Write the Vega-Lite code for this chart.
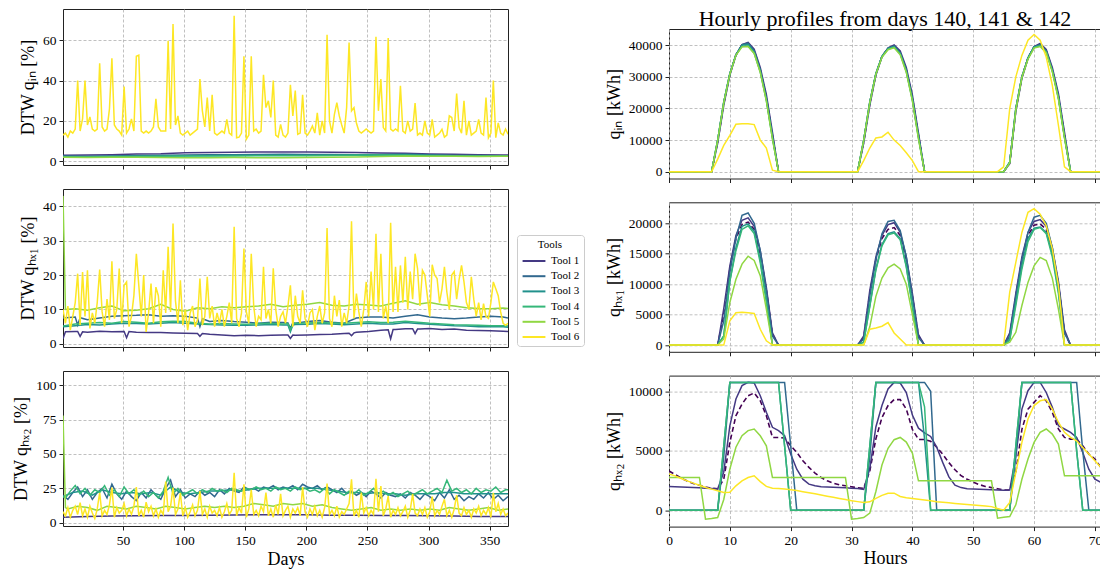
{
"$schema": "https://vega.github.io/schema/vega-lite/v6.json",
"padding": {"left": 12, "top": 8, "right": 0, "bottom": 0},
"config": {
  "font": "Liberation Serif",
  "view": {"stroke": "#222222", "strokeWidth": 1},
  "axis": {"labelFont": "Liberation Serif", "titleFont": "Liberation Serif", "labelFontSize": 13.5, "titleFontSize": 18, "titleFontWeight": "normal", "labelColor": "#000000", "titleColor": "#000000", "tickColor": "#222222", "tickSize": 4, "domain": false, "grid": true, "gridColor": "#b0b0b0", "gridDash": [3, 2], "gridWidth": 0.8, "labelPadding": 3, "titlePadding": 5, "labelFlush": false, "labelOverlap": false},
  "legend": {"orient": "none", "legendX": 454, "legendY": 226, "titleFontSize": 11, "labelFontSize": 11, "titleFontWeight": "normal", "titleFont": "Liberation Serif", "labelFont": "Liberation Serif", "titleAnchor": "middle", "strokeColor": "#cccccc", "fillColor": "#ffffff", "cornerRadius": 3, "padding": 4, "symbolSize": 232, "symbolStrokeWidth": 2, "labelOffset": 8, "rowPadding": 1.2, "titlePadding": 2, "symbolOffset": 4, "labelColor": "#000000", "titleColor": "#000000"}
},
"datasets": {
"L1": [
{"d":1,"T1":3.0,"T2":2.6,"T3":2.4,"T4":2.2,"T5":2.0,"T6":13},
{"d":3,"T6":14},{"d":5,"T6":12},{"d":7,"T6":15},{"d":9,"T6":14},{"d":11,"T6":16},{"d":13,"T6":40},{"d":15,"T6":15},{"d":17,"T6":21},{"d":19,"T6":40},
{"d":21,"T1":3.1,"T2":2.5,"T3":2.3,"T4":2.2,"T5":1.9,"T6":18},
{"d":23,"T6":22},{"d":25,"T6":16},{"d":27,"T6":15},{"d":29,"T6":16},{"d":31,"T6":48.6},{"d":33,"T6":17},{"d":35,"T6":15},{"d":37,"T6":16},{"d":39,"T6":26},
{"d":41,"T1":3.3,"T2":2.7,"T3":2.5,"T4":2.3,"T5":2.0,"T6":51},
{"d":43,"T6":18},{"d":45,"T6":16},{"d":47,"T6":15},{"d":49,"T6":13},{"d":51,"T6":37},{"d":53,"T6":14},{"d":55,"T6":16},{"d":57,"T6":21},{"d":59,"T6":15},
{"d":61,"T1":3.6,"T2":2.9,"T3":2.6,"T4":2.4,"T5":2.0,"T6":52},
{"d":63,"T6":52.6},{"d":65,"T6":15},{"d":67,"T6":14},{"d":69,"T6":15},{"d":71,"T6":14},{"d":73,"T6":15},{"d":75,"T6":17},{"d":77,"T6":31},{"d":79,"T6":17},
{"d":81,"T1":3.8,"T2":3.0,"T3":2.7,"T4":2.5,"T5":1.9,"T6":15},
{"d":83,"T6":15},{"d":85,"T6":15},{"d":87,"T6":59.7},{"d":89,"T6":16},{"d":91,"T6":68},{"d":93,"T6":18},{"d":95,"T6":22.5},{"d":97,"T6":14},{"d":99,"T6":13},
{"d":101,"T1":4.3,"T2":3.2,"T3":2.8,"T4":2.6,"T5":1.8,"T6":14},
{"d":103,"T6":15},{"d":105,"T6":13},{"d":107,"T6":14},{"d":109,"T6":15},{"d":111,"T6":16},{"d":113,"T6":40.7},{"d":115,"T6":25},{"d":117,"T6":17},{"d":119,"T6":31.6},
{"d":121,"T1":4.4,"T2":3.3,"T3":2.9,"T4":2.7,"T5":1.8,"T6":15},
{"d":123,"T6":33},{"d":125,"T6":14},{"d":127,"T6":13},{"d":129,"T6":14},{"d":131,"T6":15},{"d":133,"T6":14},{"d":135,"T6":20.8},{"d":137,"T6":14},{"d":139,"T6":13},
{"d":141,"T1":4.5,"T2":3.3,"T3":3.0,"T4":2.7,"T5":1.9,"T6":72},
{"d":143,"T6":11.7},{"d":145,"T6":12},{"d":147,"T6":14},{"d":149,"T6":52},{"d":151,"T6":11},{"d":153,"T6":13},{"d":155,"T6":52},{"d":157,"T6":15},{"d":159,"T6":16},
{"d":161,"T1":4.6,"T2":3.4,"T3":3.0,"T4":2.8,"T5":1.8,"T6":14},
{"d":163,"T6":15},{"d":165,"T6":42.8},{"d":167,"T6":26.6},{"d":169,"T6":30},{"d":171,"T6":21.7},{"d":173,"T6":40},{"d":175,"T6":13},{"d":177,"T6":12},{"d":179,"T6":18.3},
{"d":181,"T1":4.6,"T2":3.5,"T3":3.1,"T4":2.8,"T5":1.8,"T6":13},
{"d":183,"T6":12},{"d":185,"T6":14},{"d":187,"T6":37.9},{"d":189,"T6":22.5},{"d":191,"T6":35},{"d":193,"T6":13.4},{"d":195,"T6":14},{"d":197,"T6":33},{"d":199,"T6":14},
{"d":201,"T1":4.6,"T2":3.4,"T3":3.0,"T4":2.8,"T5":1.9,"T6":13},
{"d":203,"T6":15},{"d":205,"T6":17.5},{"d":207,"T6":14},{"d":209,"T6":24},{"d":211,"T6":13},{"d":213,"T6":20},{"d":215,"T6":14},{"d":217,"T6":62.6},{"d":219,"T6":20},
{"d":221,"T1":4.5,"T2":3.4,"T3":3.0,"T4":2.9,"T5":2.0,"T6":14},
{"d":223,"T6":23.3},{"d":225,"T6":29},{"d":227,"T6":22.5},{"d":229,"T6":18},{"d":231,"T6":14},{"d":233,"T6":26.6},{"d":235,"T6":58.8},{"d":237,"T6":25},{"d":239,"T6":26.6},
{"d":241,"T1":4.4,"T2":3.3,"T3":3.1,"T4":3.0,"T5":2.2,"T6":19},
{"d":243,"T6":15},{"d":245,"T6":14},{"d":247,"T6":15},{"d":249,"T6":16},{"d":251,"T6":15},{"d":253,"T6":14},{"d":255,"T6":15},{"d":257,"T6":61.7},{"d":259,"T6":25},
{"d":261,"T1":4.2,"T2":3.4,"T3":3.2,"T4":3.1,"T5":2.4,"T6":40.7},
{"d":263,"T6":16.7},{"d":265,"T6":15},{"d":267,"T6":61},{"d":269,"T6":16},{"d":271,"T6":15},{"d":273,"T6":16},{"d":275,"T6":15},{"d":277,"T6":37.4},{"d":279,"T6":15},
{"d":281,"T1":4.0,"T2":3.6,"T3":3.3,"T4":3.0,"T5":2.6,"T6":14},
{"d":283,"T6":20},{"d":285,"T6":15},{"d":287,"T6":16},{"d":289,"T6":28.8},{"d":291,"T6":13},{"d":293,"T6":14},{"d":295,"T6":13},{"d":297,"T6":20},{"d":299,"T6":14},
{"d":301,"T1":3.7,"T2":3.3,"T3":3.0,"T4":2.8,"T5":2.5,"T6":13},
{"d":303,"T6":20.8},{"d":305,"T6":12},{"d":307,"T6":13},{"d":309,"T6":14},{"d":311,"T6":15.9},{"d":313,"T6":12},{"d":315,"T6":13},{"d":317,"T6":22.5},{"d":319,"T6":21.7},
{"d":321,"T1":3.5,"T2":3.0,"T3":2.8,"T4":2.7,"T5":2.5,"T6":15},
{"d":323,"T6":33.5},{"d":325,"T6":16.7},{"d":327,"T6":14},{"d":329,"T6":30},{"d":331,"T6":13},{"d":333,"T6":20},{"d":335,"T6":13},{"d":337,"T6":14},{"d":339,"T6":15},
{"d":341,"T1":3.3,"T2":2.9,"T3":2.7,"T4":2.6,"T5":2.4,"T6":20.8},
{"d":343,"T6":14},{"d":345,"T6":13},{"d":347,"T6":31.6},{"d":349,"T6":11.7},{"d":351,"T6":14},{"d":353,"T6":40},{"d":355,"T6":11.7},{"d":357,"T6":19},{"d":359,"T6":14},
{"d":361,"T1":3.1,"T2":2.8,"T3":2.6,"T4":2.5,"T5":2.5,"T6":13},
{"d":363,"T6":16},
{"d":365,"T1":3.1,"T2":2.8,"T3":2.6,"T4":2.5,"T5":2.5,"T6":13.4}
],
"L2": [
{"d":1,"T1":1.5,"T2":7.5,"T3":5.0,"T4":5.2,"T5":43,"T6":10},
{"d":3,"T1":3.5,"T5":10,"T6":6},{"d":5,"T6":11},{"d":7,"T6":4},{"d":9,"T6":8},
{"d":11,"T1":3.6,"T2":7.8,"T3":5.3,"T4":5.8,"T5":10.2,"T6":12},
{"d":13,"T1":3.6,"T2":5.5,"T6":20.4},{"d":15,"T1":2.2,"T2":7.6,"T6":5.4},{"d":17,"T1":3.5,"T6":20.9},{"d":19,"T6":8},
{"d":21,"T1":3.4,"T2":7.0,"T3":5.6,"T4":6.0,"T5":9.8,"T6":21.4},
{"d":23,"T6":4.5},{"d":25,"T6":9},{"d":27,"T6":6},{"d":29,"T6":12},
{"d":31,"T1":3.7,"T2":7.5,"T3":5.5,"T4":6.2,"T5":10.5,"T6":21.6},
{"d":33,"T6":9.3},{"d":35,"T6":5},{"d":37,"T6":13},{"d":39,"T6":7},
{"d":41,"T1":3.5,"T2":8.0,"T3":5.8,"T4":6.0,"T5":11.0,"T6":24},
{"d":43,"T6":7.4},{"d":45,"T6":10},{"d":47,"T6":21.9},{"d":49,"T6":6},
{"d":51,"T1":3.6,"T2":8.2,"T3":6.0,"T4":6.5,"T5":9.6,"T6":17},
{"d":53,"T1":1.8,"T6":18},{"d":55,"T1":3.6,"T6":5},{"d":57,"T6":8},{"d":59,"T6":14.1},
{"d":61,"T1":3.4,"T2":8.3,"T3":5.9,"T4":6.3,"T5":9.8,"T6":26.2},
{"d":63,"T6":17},{"d":65,"T6":8},{"d":67,"T6":20},{"d":69,"T6":3.5},
{"d":71,"T1":3.3,"T2":8.5,"T3":5.8,"T4":6.0,"T5":10.2,"T6":9},
{"d":73,"T6":17.5},{"d":75,"T6":6},{"d":77,"T6":16.5},{"d":79,"T6":14},
{"d":81,"T1":3.3,"T2":8.0,"T3":6.0,"T4":6.4,"T5":11.5,"T6":5},
{"d":83,"T6":21.4},{"d":85,"T6":9},{"d":87,"T6":28.2},{"d":89,"T6":9.3},
{"d":91,"T1":3.2,"T2":8.2,"T3":6.2,"T4":6.6,"T5":10.0,"T6":35},
{"d":93,"T6":12.5},{"d":95,"T6":6},{"d":97,"T6":18.5},{"d":99,"T6":5.4},
{"d":101,"T1":3.1,"T2":8.0,"T3":6.0,"T4":6.5,"T5":9.5,"T6":10},
{"d":103,"T6":4},{"d":105,"T6":9},{"d":107,"T6":11},{"d":109,"T6":5},
{"d":111,"T1":3.0,"T2":7.5,"T3":5.8,"T4":6.0,"T5":10.5,"T6":7},
{"d":113,"T1":2.2,"T2":5.0,"T6":19},{"d":115,"T1":3.0,"T2":7.3,"T6":5.4},{"d":117,"T6":8},{"d":119,"T6":19.5},
{"d":121,"T1":2.8,"T2":6.5,"T3":5.6,"T4":5.8,"T5":10.2,"T6":7.4},
{"d":123,"T6":11},{"d":125,"T6":5},{"d":127,"T6":9},{"d":129,"T6":6},
{"d":131,"T1":2.6,"T2":6.8,"T3":5.5,"T4":5.9,"T5":10.8,"T6":10},
{"d":133,"T6":5},{"d":135,"T6":8},{"d":137,"T6":12},{"d":139,"T6":6},
{"d":141,"T1":2.4,"T2":6.5,"T3":5.4,"T4":5.8,"T5":10.5,"T6":34},
{"d":143,"T6":7.4},{"d":145,"T6":5},{"d":147,"T6":9},{"d":149,"T6":27.7},
{"d":151,"T1":2.5,"T2":6.3,"T3":5.4,"T4":5.7,"T5":10.8,"T6":9.3},
{"d":153,"T6":6},{"d":155,"T6":26.2},{"d":157,"T6":11},{"d":159,"T6":5},
{"d":161,"T1":2.4,"T2":6.0,"T3":5.5,"T4":5.9,"T5":11.0,"T6":8},
{"d":163,"T6":7},{"d":165,"T6":22.4},{"d":167,"T6":7.4},{"d":169,"T6":10},
{"d":171,"T1":2.5,"T2":6.3,"T3":5.6,"T4":6.0,"T5":11.5,"T6":6},
{"d":173,"T6":22},{"d":175,"T6":10},{"d":177,"T6":5},{"d":179,"T6":8},
{"d":181,"T1":2.6,"T2":6.2,"T3":5.5,"T4":5.8,"T5":10.8,"T6":9.3},
{"d":183,"T6":6},{"d":185,"T1":2.6,"T2":6.1,"T3":5.5,"T4":5.9,"T6":11},{"d":187,"T1":1.6,"T2":4.5,"T3":3.5,"T4":4.0,"T6":17},{"d":189,"T1":2.6,"T2":6.1,"T3":5.5,"T4":5.9,"T6":5},
{"d":191,"T1":2.5,"T2":6.0,"T3":5.6,"T4":6.0,"T5":11.2,"T6":14},
{"d":193,"T6":8},{"d":195,"T6":6},{"d":197,"T6":15.6},{"d":199,"T6":7.4},
{"d":201,"T1":2.6,"T2":6.5,"T3":5.7,"T4":6.1,"T5":11.5,"T6":5},
{"d":203,"T6":9},{"d":205,"T6":10},{"d":207,"T6":4},{"d":209,"T6":8},
{"d":211,"T1":2.7,"T2":6.8,"T3":5.9,"T4":6.2,"T5":12.0,"T6":11},
{"d":213,"T6":6},{"d":215,"T6":9},{"d":217,"T6":33.7},{"d":219,"T6":7.4},
{"d":221,"T1":2.8,"T2":6.3,"T3":5.8,"T4":6.1,"T5":11.2,"T6":5},
{"d":223,"T6":14},{"d":225,"T6":8},{"d":227,"T6":12.7},{"d":229,"T6":5},
{"d":231,"T1":3.0,"T2":6.0,"T3":5.6,"T4":6.0,"T5":11.0,"T6":9},
{"d":233,"T6":6},{"d":235,"T1":3.1,"T6":11},{"d":237,"T1":2.4,"T6":35.6},{"d":239,"T1":3.2,"T6":7.4},
{"d":241,"T1":3.4,"T2":7.5,"T3":5.8,"T4":6.2,"T5":11.5,"T6":14.6},
{"d":243,"T6":9.3},{"d":245,"T6":5},{"d":247,"T6":10},{"d":249,"T6":18},
{"d":251,"T1":3.6,"T2":7.8,"T3":6.0,"T4":6.4,"T5":11.3,"T6":8},
{"d":253,"T6":21},{"d":255,"T6":10},{"d":257,"T6":32},{"d":259,"T6":9.3},
{"d":261,"T1":4.0,"T2":7.8,"T3":5.8,"T4":6.2,"T5":11.0,"T6":26.2},
{"d":263,"T6":7.4},{"d":265,"T6":11},{"d":267,"T1":4.1,"T6":6},{"d":269,"T1":1.5,"T6":35.2},
{"d":271,"T1":4.2,"T2":7.5,"T3":5.8,"T4":6.3,"T5":11.8,"T6":9.3},
{"d":273,"T1":4.2,"T6":22.4},{"d":275,"T6":9.3},{"d":277,"T6":22.8},{"d":279,"T6":12},
{"d":281,"T1":4.4,"T2":8.0,"T3":6.2,"T4":6.6,"T5":12.5,"T6":25.3},
{"d":283,"T6":10},{"d":285,"T6":21},{"d":287,"T1":4.4,"T6":13},{"d":289,"T1":3.0,"T6":26.2},
{"d":291,"T1":4.3,"T2":8.5,"T3":5.9,"T4":6.3,"T5":11.5,"T6":21.9},
{"d":293,"T1":4.3,"T6":11},{"d":295,"T6":21.4},{"d":297,"T6":20},{"d":299,"T6":14},
{"d":301,"T1":4.5,"T2":7.8,"T3":5.7,"T4":6.0,"T5":12.0,"T6":8},
{"d":303,"T6":23},{"d":305,"T6":20},{"d":307,"T6":19},{"d":309,"T6":12},
{"d":311,"T1":4.2,"T2":7.5,"T3":5.5,"T4":5.8,"T5":11.4,"T6":16},
{"d":313,"T6":22.4},{"d":315,"T6":15},{"d":317,"T6":10},{"d":319,"T6":20},
{"d":321,"T1":4.3,"T2":7.3,"T3":5.3,"T4":5.6,"T5":11.0,"T6":21},
{"d":323,"T6":13},{"d":325,"T6":18.7},{"d":327,"T6":22.8},{"d":329,"T6":18},
{"d":331,"T1":4.0,"T2":7.5,"T3":5.2,"T4":5.5,"T5":10.5,"T6":12},
{"d":333,"T6":10},{"d":335,"T6":19.5},{"d":337,"T6":13},{"d":339,"T6":8},
{"d":341,"T1":3.9,"T2":7.8,"T3":5.0,"T4":5.4,"T5":10.3,"T6":12},
{"d":343,"T6":7},{"d":345,"T6":11.7},{"d":347,"T6":8},{"d":349,"T6":7.4},
{"d":351,"T1":3.8,"T2":8.0,"T3":5.0,"T4":5.3,"T5":10.2,"T6":12},
{"d":353,"T6":18},{"d":355,"T6":16},{"d":357,"T6":14},{"d":359,"T6":9.3},
{"d":361,"T1":3.7,"T2":7.8,"T3":5.0,"T4":5.3,"T5":10.4,"T6":6},
{"d":363,"T6":5.4},
{"d":365,"T1":3.6,"T2":7.5,"T3":4.8,"T4":5.2,"T5":10.3,"T6":6}
],
"L3": [
{"d":1,"T1":4.0,"T2":20,"T3":19,"T4":19,"T5":78,"T6":8},
{"d":3,"T4":18,"T5":11,"T6":5},{"d":5,"T2":17,"T5":10,"T6":11},{"d":7,"T4":23,"T6":4},{"d":9,"T2":22,"T3":22,"T6":9},
{"d":11,"T4":27,"T6":12},{"d":13,"T2":26,"T5":12,"T6":6},{"d":15,"T4":21,"T6":14.6},{"d":17,"T2":19,"T3":23,"T6":5},{"d":19,"T4":25,"T6":10},
{"d":21,"T1":4.5,"T2":24,"T5":11,"T6":4},{"d":23,"T4":20,"T6":12},{"d":25,"T2":17,"T3":20,"T6":7},{"d":27,"T4":24,"T6":3},{"d":29,"T2":22,"T5":9,"T6":10},
{"d":31,"T4":22,"T6":21.8},{"d":33,"T2":25,"T3":24,"T6":5},{"d":35,"T4":27,"T6":9},{"d":37,"T2":18,"T5":12,"T6":6},{"d":39,"T4":20,"T6":13},
{"d":41,"T1":4.8,"T2":28,"T3":22,"T6":25.5},{"d":43,"T4":24,"T6":4},{"d":45,"T2":21,"T5":11,"T6":11},{"d":47,"T4":19,"T6":7},{"d":49,"T2":17,"T3":21,"T6":9},
{"d":51,"T4":26,"T6":14},{"d":53,"T2":23,"T5":10,"T6":5},{"d":55,"T4":21,"T6":10},{"d":57,"T2":19,"T3":22,"T6":6},{"d":59,"T4":24,"T6":12},
{"d":61,"T1":5.0,"T2":16,"T5":12,"T6":26},{"d":63,"T4":20,"T6":5},{"d":65,"T2":22,"T3":21,"T6":9},{"d":67,"T4":23,"T6":4},{"d":69,"T2":18,"T5":11,"T6":15},
{"d":71,"T4":19,"T6":8},{"d":73,"T2":24,"T3":22,"T6":12},{"d":75,"T4":22,"T6":5},{"d":77,"T2":20,"T5":10,"T6":10},{"d":79,"T4":18,"T6":4},
{"d":81,"T1":5.2,"T2":17,"T3":20,"T6":9},{"d":83,"T4":23,"T6":6},{"d":85,"T2":25,"T5":12,"T6":30},{"d":87,"T4":33,"T6":8},{"d":89,"T2":31,"T3":26,"T6":12},
{"d":91,"T4":21,"T6":25.5},{"d":93,"T2":19,"T5":11,"T6":6},{"d":95,"T4":25,"T6":10},{"d":97,"T2":24,"T3":22,"T6":21.8},{"d":99,"T4":20,"T6":5},
{"d":101,"T1":5.3,"T2":18,"T5":10,"T6":11},{"d":103,"T4":22,"T6":4},{"d":105,"T2":21,"T3":21,"T6":8},{"d":107,"T4":24,"T6":13},{"d":109,"T2":19,"T5":11,"T6":5},
{"d":111,"T4":21,"T6":9},{"d":113,"T2":23,"T3":22,"T6":23},{"d":115,"T4":24,"T6":6},{"d":117,"T2":20,"T5":12,"T6":10},{"d":119,"T4":22,"T6":4},
{"d":121,"T1":5.5,"T2":22,"T3":23,"T6":12},{"d":123,"T4":25,"T6":7},{"d":125,"T2":19,"T5":11,"T6":9},{"d":127,"T4":23,"T6":5},{"d":129,"T2":24,"T3":23,"T6":11},
{"d":131,"T4":24,"T6":4},{"d":133,"T2":21,"T5":12,"T6":8},{"d":135,"T4":22,"T6":14},{"d":137,"T2":25,"T3":24,"T6":6},{"d":139,"T4":25,"T6":9},
{"d":141,"T1":5.6,"T2":23,"T5":11,"T6":36.4},{"d":143,"T4":24,"T6":5},{"d":145,"T2":22,"T3":23,"T6":11},{"d":147,"T4":23,"T6":7},{"d":149,"T2":26,"T5":12,"T6":28},
{"d":151,"T4":25,"T6":4},{"d":153,"T2":24,"T3":24,"T6":10},{"d":155,"T4":24,"T6":24},{"d":157,"T2":25,"T5":14,"T6":6},{"d":159,"T4":26,"T6":9},
{"d":161,"T1":5.8,"T2":23,"T3":25,"T6":5},{"d":163,"T4":24,"T6":12},{"d":165,"T2":26,"T5":13,"T6":8},{"d":167,"T4":25,"T6":22},{"d":169,"T2":25,"T3":25,"T6":5},
{"d":171,"T4":23,"T6":10},{"d":173,"T2":27,"T5":12,"T6":4},{"d":175,"T4":26,"T6":13},{"d":177,"T2":24,"T3":25,"T6":6},{"d":179,"T4":24,"T6":21},
{"d":181,"T1":5.8,"T2":26,"T5":14,"T6":5},{"d":183,"T4":25,"T6":9},{"d":185,"T2":25,"T3":25,"T6":12},{"d":187,"T4":23,"T6":4},{"d":189,"T2":27,"T5":13,"T6":10},
{"d":191,"T4":26,"T6":7},{"d":193,"T2":24,"T3":25,"T6":11},{"d":195,"T4":24,"T6":5},{"d":197,"T2":28,"T5":14,"T6":26},{"d":199,"T4":25,"T6":8},
{"d":201,"T1":5.7,"T2":26,"T3":25,"T6":4},{"d":203,"T4":23,"T6":10},{"d":205,"T2":25,"T5":12,"T6":6},{"d":207,"T4":24,"T6":12},{"d":209,"T2":27,"T3":25,"T6":5},
{"d":211,"T4":22,"T6":9},{"d":213,"T2":24,"T5":13,"T6":4},{"d":215,"T4":25,"T6":11},{"d":217,"T2":26,"T3":24,"T6":28.4},{"d":219,"T4":21,"T6":6},
{"d":221,"T1":5.5,"T2":24,"T5":11,"T6":9},{"d":223,"T4":24,"T6":5},{"d":225,"T2":22,"T3":23,"T6":12},{"d":227,"T4":22,"T6":4},{"d":229,"T2":25,"T5":10,"T6":8},
{"d":231,"T4":20,"T6":6},{"d":233,"T2":21,"T3":22,"T6":10},{"d":235,"T4":23,"T6":14},{"d":237,"T2":23,"T5":9,"T6":31.5},{"d":239,"T4":21,"T6":5},
{"d":241,"T1":5.4,"T2":20,"T3":22,"T6":9},{"d":243,"T4":24,"T6":4},{"d":245,"T2":22,"T5":10,"T6":22},{"d":247,"T4":20,"T6":7},{"d":249,"T2":19,"T3":21,"T6":11},
{"d":251,"T4":22,"T6":5},{"d":253,"T2":23,"T5":11,"T6":9},{"d":255,"T4":25,"T6":6},{"d":257,"T2":21,"T3":22,"T6":32},{"d":259,"T4":21,"T6":8},
{"d":261,"T1":5.3,"T2":18,"T5":9,"T6":26.7},{"d":263,"T4":23,"T6":5},{"d":265,"T2":22,"T3":21,"T6":10},{"d":267,"T4":20,"T6":19.4},{"d":269,"T2":20,"T5":10,"T6":4},
{"d":271,"T4":22,"T6":9},{"d":273,"T2":19,"T3":21,"T6":6},{"d":275,"T4":19,"T6":11},{"d":277,"T2":21,"T5":9,"T6":5},{"d":279,"T4":21,"T6":8},
{"d":281,"T1":5.2,"T2":18,"T3":20,"T6":12},{"d":283,"T4":23,"T6":4},{"d":285,"T2":22,"T5":10,"T6":9},{"d":287,"T4":20,"T6":21},{"d":289,"T2":20,"T3":21,"T6":7},
{"d":291,"T4":22,"T6":5},{"d":293,"T2":17,"T5":9,"T6":10},{"d":295,"T4":24,"T6":6},{"d":297,"T2":21,"T3":21,"T6":11},{"d":299,"T4":21,"T6":4},
{"d":301,"T1":5.0,"T2":19,"T5":10,"T6":8},{"d":303,"T4":23,"T6":19},{"d":305,"T2":16,"T3":21,"T6":5},{"d":307,"T4":25,"T6":9},{"d":309,"T2":22,"T5":9,"T6":6},
{"d":311,"T4":22,"T6":12},{"d":313,"T2":18,"T3":22,"T6":17},{"d":315,"T4":31,"T6":5},{"d":317,"T2":24,"T5":11,"T6":9},{"d":319,"T4":23,"T6":4},
{"d":321,"T1":4.8,"T2":17,"T3":22,"T6":10},{"d":323,"T4":25,"T6":20},{"d":325,"T2":20,"T5":10,"T6":7},{"d":327,"T4":22,"T6":5},{"d":329,"T2":16,"T3":21,"T6":11},
{"d":331,"T4":24,"T6":6},{"d":333,"T2":19,"T5":9,"T6":9},{"d":335,"T4":21,"T6":4},{"d":337,"T2":17,"T3":21,"T6":10},{"d":339,"T4":25,"T6":7},
{"d":341,"T1":4.6,"T2":21,"T5":10,"T6":12},{"d":343,"T4":22,"T6":5},{"d":345,"T2":18,"T3":21,"T6":9},{"d":347,"T4":24,"T6":6},{"d":349,"T2":22,"T5":11,"T6":11},
{"d":351,"T4":23,"T6":4},{"d":353,"T2":17,"T3":21,"T6":21.8},{"d":355,"T4":26,"T6":8},{"d":357,"T2":20,"T5":9,"T6":14},{"d":359,"T4":22,"T6":6},
{"d":361,"T1":4.5,"T2":16,"T3":21,"T6":10},{"d":363,"T4":24,"T6":5},
{"d":365,"T1":4.5,"T2":19,"T3":21,"T4":24,"T5":10,"T6":7}
],
"R1": [
{"h":0,"T1":0,"T2":0,"T3":0,"T4":0,"T5":0,"T6":0,"R":0},
{"h":7,"T1":0,"T2":0,"T3":0,"T4":0,"T5":0,"T6":0,"R":0},
{"h":8,"T1":9000,"T2":10000,"T3":10000,"T4":10000,"T5":9800,"T6":4000,"R":9500},
{"h":9,"T1":21000,"T2":22000,"T3":22000,"T4":22000,"T5":21800,"T6":8300,"R":21500},
{"h":10,"T1":30500,"T2":31000,"T3":31000,"T4":31000,"T5":30800,"T6":11500,"R":30800},
{"h":11,"T1":36800,"T2":37000,"T3":37000,"T4":37000,"T5":36800,"T6":15000,"R":37000},
{"h":12,"T1":40200,"T2":40200,"T3":40000,"T4":39600,"T5":39500,"T6":15200,"R":40000},
{"h":13,"T1":40900,"T2":40700,"T3":40300,"T4":39800,"T5":39600,"T6":15200,"R":40500},
{"h":14,"T1":38800,"T2":38200,"T3":38000,"T4":37500,"T5":37400,"T6":14900,"R":38200},
{"h":15,"T1":33000,"T2":32200,"T3":32000,"T4":31500,"T5":31400,"T6":10000,"R":32300},
{"h":16,"T1":24500,"T2":23300,"T3":23000,"T4":22500,"T5":22400,"T6":7500,"R":23500},
{"h":17,"T1":12500,"T2":11300,"T3":11000,"T4":10500,"T5":10400,"T6":500,"R":11500},
{"h":18,"T1":0,"T2":0,"T3":0,"T4":0,"T5":0,"T6":0,"R":0},
{"h":31,"T1":0,"T2":0,"T3":0,"T4":0,"T5":0,"T6":0,"R":0},
{"h":32,"T1":9000,"T2":10000,"T3":10000,"T4":10000,"T5":9800,"T6":3500,"R":9500},
{"h":33,"T1":21000,"T2":22000,"T3":22000,"T4":22000,"T5":21800,"T6":7500,"R":21500},
{"h":34,"T1":30500,"T2":31000,"T3":31000,"T4":31000,"T5":30800,"T6":10700,"R":30800},
{"h":35,"T1":36300,"T2":36500,"T3":36500,"T4":36400,"T5":36200,"T6":11000,"R":36500},
{"h":36,"T1":39200,"T2":39000,"T3":39000,"T4":38800,"T5":38600,"T6":12500,"R":39000},
{"h":37,"T1":40100,"T2":39800,"T3":39600,"T4":39400,"T5":39200,"T6":10000,"R":39800},
{"h":38,"T1":38200,"T2":37600,"T3":37500,"T4":37200,"T5":37000,"T6":8300,"R":37600},
{"h":39,"T1":33000,"T2":32200,"T3":32000,"T4":31600,"T5":31400,"T6":6000,"R":32300},
{"h":40,"T1":24300,"T2":23300,"T3":23000,"T4":22600,"T5":22400,"T6":3500,"R":23500},
{"h":41,"T1":12300,"T2":11300,"T3":11000,"T4":10600,"T5":10400,"T6":0,"R":11500},
{"h":42,"T1":0,"T2":0,"T3":0,"T4":0,"T5":0,"T6":0,"R":0},
{"h":54,"T1":0,"T2":0,"T3":0,"T4":0,"T5":0,"T6":0,"R":0},
{"h":55,"T1":0,"T2":0,"T3":0,"T4":0,"T5":0,"T6":1500,"R":0},
{"h":56,"T1":2500,"T2":3000,"T3":3000,"T4":3000,"T5":2800,"T6":20000,"R":2800},
{"h":57,"T1":19000,"T2":20000,"T3":20000,"T4":20000,"T5":19500,"T6":30000,"R":19500},
{"h":58,"T1":29500,"T2":30000,"T3":30000,"T4":30000,"T5":29800,"T6":36800,"R":30000},
{"h":59,"T1":35800,"T2":36000,"T3":36000,"T4":35800,"T5":35600,"T6":41600,"R":36000},
{"h":60,"T1":39600,"T2":39500,"T3":39500,"T4":39300,"T5":39100,"T6":43400,"R":39500},
{"h":61,"T1":40600,"T2":40200,"T3":40000,"T4":39800,"T5":39600,"T6":41600,"R":40200},
{"h":62,"T1":38700,"T2":38200,"T3":38000,"T4":37800,"T5":37600,"T6":36300,"R":38200},
{"h":63,"T1":33000,"T2":32300,"T3":32000,"T4":31800,"T5":31600,"T6":27300,"R":32300},
{"h":64,"T1":24800,"T2":23800,"T3":23500,"T4":23200,"T5":23000,"T6":14700,"R":23800},
{"h":65,"T1":12500,"T2":11300,"T3":11000,"T4":10800,"T5":10600,"T6":1500,"R":11500},
{"h":66,"T1":0,"T2":0,"T3":0,"T4":0,"T5":0,"T6":0,"R":0},
{"h":71,"T1":0,"T2":0,"T3":0,"T4":0,"T5":0,"T6":0,"R":0}
],
"R2": [
{"h":0,"T1":0,"T2":0,"T3":0,"T4":0,"T5":0,"T6":0,"R":0},
{"h":8,"T1":0,"T2":0,"T3":0,"T4":0,"T5":0,"T6":0,"R":0},
{"h":9,"T1":6000,"T2":4000,"T3":1500,"T4":1500,"T5":1000,"T6":0,"R":5000},
{"h":10,"T1":13000,"T2":12000,"T3":10500,"T4":10500,"T5":7000,"T6":4000,"R":12500},
{"h":11,"T1":18000,"T2":17500,"T3":16000,"T4":15500,"T5":10800,"T6":5300,"R":17500},
{"h":12,"T1":20500,"T2":21300,"T3":19500,"T4":19000,"T5":13300,"T6":5400,"R":19800},
{"h":13,"T1":20900,"T2":21700,"T3":19900,"T4":19600,"T5":14600,"T6":5300,"R":20200},
{"h":14,"T1":19500,"T2":20000,"T3":18700,"T4":18300,"T5":13900,"T6":5200,"R":19000},
{"h":15,"T1":15500,"T2":15500,"T3":14000,"T4":13500,"T5":11400,"T6":2600,"R":15000},
{"h":16,"T1":9500,"T2":9000,"T3":7500,"T4":7000,"T5":5900,"T6":700,"R":9000},
{"h":17,"T1":2000,"T2":1500,"T3":0,"T4":0,"T5":0,"T6":0,"R":1800},
{"h":18,"T1":0,"T2":0,"T3":0,"T4":0,"T5":0,"T6":0,"R":0},
{"h":31,"T1":0,"T2":0,"T3":0,"T4":0,"T5":0,"T6":0,"R":0},
{"h":32,"T1":1500,"T2":1000,"T3":500,"T4":500,"T5":0,"T6":0,"R":1200},
{"h":33,"T1":9000,"T2":8000,"T3":6500,"T4":6300,"T5":3000,"T6":2600,"R":8500},
{"h":34,"T1":14500,"T2":14000,"T3":12500,"T4":12300,"T5":8000,"T6":2800,"R":14000},
{"h":35,"T1":18000,"T2":18300,"T3":16500,"T4":16300,"T5":11000,"T6":3100,"R":17500},
{"h":36,"T1":19800,"T2":20300,"T3":18300,"T4":18100,"T5":12700,"T6":3700,"R":19000},
{"h":37,"T1":20100,"T2":20500,"T3":18600,"T4":18400,"T5":13300,"T6":2000,"R":19300},
{"h":38,"T1":18500,"T2":18800,"T3":17500,"T4":17300,"T5":12500,"T6":1000,"R":18000},
{"h":39,"T1":14500,"T2":14500,"T3":13000,"T4":12800,"T5":10000,"T6":0,"R":14000},
{"h":40,"T1":8500,"T2":8000,"T3":6500,"T4":6300,"T5":5000,"T6":0,"R":8000},
{"h":41,"T1":1700,"T2":1200,"T3":0,"T4":0,"T5":0,"T6":0,"R":1500},
{"h":42,"T1":0,"T2":0,"T3":0,"T4":0,"T5":0,"T6":0,"R":0},
{"h":55,"T1":0,"T2":0,"T3":0,"T4":0,"T5":0,"T6":0,"R":0},
{"h":56,"T1":2000,"T2":1500,"T3":1000,"T4":800,"T5":500,"T6":8700,"R":1500},
{"h":57,"T1":8500,"T2":8000,"T3":7000,"T4":6500,"T5":2100,"T6":13600,"R":8000},
{"h":58,"T1":14500,"T2":14000,"T3":13000,"T4":12500,"T5":6500,"T6":18500,"R":14000},
{"h":59,"T1":18500,"T2":18500,"T3":17500,"T4":17000,"T5":10300,"T6":21800,"R":18000},
{"h":60,"T1":20300,"T2":21000,"T3":19200,"T4":19000,"T5":13000,"T6":22400,"R":19700},
{"h":61,"T1":20600,"T2":21300,"T3":19400,"T4":19300,"T5":14400,"T6":21500,"R":19900},
{"h":62,"T1":19500,"T2":20000,"T3":18500,"T4":18300,"T5":13900,"T6":19600,"R":19000},
{"h":63,"T1":16000,"T2":16000,"T3":15000,"T4":14500,"T5":11000,"T6":15800,"R":15500},
{"h":64,"T1":10500,"T2":10000,"T3":9000,"T4":8500,"T5":5900,"T6":9800,"R":10000},
{"h":65,"T1":2500,"T2":2000,"T3":0,"T4":0,"T5":0,"T6":0,"R":2000},
{"h":66,"T1":0,"T2":0,"T3":0,"T4":0,"T5":0,"T6":0,"R":0},
{"h":71,"T1":0,"T2":0,"T3":0,"T4":0,"T5":0,"T6":0,"R":0}
],
"R3": [
{"h":0,"T1":2000,"T2":0,"T3":0,"T4":0,"T5":2750,"T6":3050,"R":3300},
{"h":1,"T1":1980,"T6":2890,"R":3000},
{"h":2,"T1":1950,"T6":2670,"R":2700},
{"h":3,"T1":1930,"T6":2470,"R":2450},
{"h":4,"T1":1900,"T6":2280,"R":2250},
{"h":5,"T1":1880,"T6":2100,"R":2100,"T5":2750},
{"h":6,"T1":1850,"T6":1910,"R":1950,"T5":-760},
{"h":7,"T1":1820,"T6":1770,"R":1850,"T5":-700},
{"h":8,"T1":1780,"T6":1630,"R":1800,"T2":0,"T3":0,"T4":0,"T5":-620},
{"h":9,"T1":3200,"T6":1490,"R":2600,"T2":4500,"T3":5400,"T4":5400,"T5":900},
{"h":10,"T1":7100,"T6":1500,"R":5700,"T2":10750,"T3":10750,"T4":10750,"T5":3450},
{"h":11,"T1":9350,"T6":2050,"R":7950,"T5":5300},
{"h":12,"T1":10480,"T6":2470,"R":8930,"T5":6260},
{"h":13,"T1":10760,"T6":2750,"R":9630,"T5":6690},
{"h":14,"T1":10700,"T6":2890,"R":9860,"T5":6830},
{"h":15,"T1":9630,"T6":2400,"R":9200,"T5":6260},
{"h":16,"T1":8230,"T6":2000,"R":7950,"T5":5420},
{"h":17,"T1":6970,"T6":1850,"R":6120,"T5":2750},
{"h":18,"T1":6690,"T6":1820,"R":6120,"T3":10750,"T4":10750},
{"h":19,"T1":6260,"T6":1780,"R":6070,"T2":10750,"T3":5400,"T4":5400},
{"h":20,"T1":4720,"T6":1720,"R":5420,"T2":5400,"T3":0,"T4":0},
{"h":21,"T1":3450,"T6":1650,"R":4860,"T2":0},
{"h":22,"T1":2610,"T6":1560,"R":4160},
{"h":23,"T1":2190,"T6":1470,"R":3600},
{"h":24,"T1":2050,"T6":1380,"R":3120},
{"h":25,"T1":1980,"T6":1280,"R":2750},
{"h":26,"T1":1950,"T6":1180,"R":2470},
{"h":27,"T1":1920,"T6":1080,"R":2280},
{"h":28,"T1":1900,"T6":980,"R":2130},
{"h":29,"T1":1880,"T6":890,"R":2050,"T5":2750},
{"h":30,"T1":1850,"T6":800,"R":1970,"T5":-760},
{"h":31,"T1":1820,"T6":720,"R":1880,"T5":-700},
{"h":32,"T1":1750,"T6":640,"R":1830,"T2":0,"T3":0,"T4":0,"T5":-620},
{"h":33,"T1":3500,"T6":700,"R":3300,"T2":4500,"T3":5400,"T4":5400,"T5":-250},
{"h":34,"T1":7000,"T6":1000,"R":6000,"T2":10750,"T3":10750,"T4":10750,"T5":1570},
{"h":35,"T1":8800,"T6":1250,"R":7800,"T5":3800},
{"h":36,"T1":10200,"T6":1430,"R":8800,"T5":5200},
{"h":37,"T1":10750,"T6":1430,"R":9300,"T5":5930},
{"h":38,"T1":10700,"T6":1150,"R":9300,"T5":6120},
{"h":39,"T1":9900,"T6":1050,"R":8500,"T5":5730},
{"h":40,"T1":8000,"T6":980,"R":6800,"T5":4800},
{"h":41,"T1":6900,"T6":920,"R":5950,"T3":10750,"T4":10750,"T5":2470},
{"h":42,"T1":6500,"T6":860,"R":5950,"T2":10750,"T3":6000,"T4":8700},
{"h":43,"T1":6200,"T6":790,"R":5800,"T2":10000,"T3":0,"T4":0},
{"h":44,"T1":5300,"T6":720,"R":5300,"T2":0},
{"h":45,"T1":4000,"T6":670,"R":4700},
{"h":46,"T1":2800,"T6":620,"R":4000},
{"h":47,"T1":2100,"T6":570,"R":3400},
{"h":48,"T1":1900,"T6":520,"R":2900},
{"h":49,"T1":1800,"T6":480,"R":2600},
{"h":50,"T1":1780,"T6":440,"R":2350},
{"h":51,"T1":1760,"T6":400,"R":2150},
{"h":52,"T1":1740,"T6":360,"R":2000},
{"h":53,"T1":1720,"T6":300,"R":1900,"T5":2470},
{"h":54,"T1":1700,"T6":140,"R":1800,"T5":-670},
{"h":55,"T1":1680,"T6":0,"R":1700,"T5":-600},
{"h":56,"T1":1700,"T6":650,"R":1700,"T2":0,"T3":0,"T4":0,"T5":-530},
{"h":57,"T1":4580,"T6":3170,"R":3200,"T2":4500,"T3":5400,"T4":5400,"T5":450},
{"h":58,"T1":8500,"T6":5700,"R":6800,"T2":10750,"T3":10750,"T4":10750,"T5":2600},
{"h":59,"T1":10050,"T6":7670,"R":8500,"T5":4300},
{"h":60,"T1":10750,"T6":8800,"R":9070,"T5":5700},
{"h":61,"T1":10750,"T6":9200,"R":9630,"T5":6550},
{"h":62,"T1":9900,"T6":9300,"R":9200,"T5":6830},
{"h":63,"T1":8650,"T6":8500,"R":8230,"T5":6400},
{"h":64,"T1":7100,"T6":7400,"R":6830,"T5":5560},
{"h":65,"T1":6830,"T6":6550,"R":6120,"T5":2890},
{"h":66,"T1":6540,"T6":6120,"R":5980,"T3":10750,"T4":10750},
{"h":67,"T1":6120,"T6":5840,"R":5980,"T2":10750,"T3":5000,"T4":5000},
{"h":68,"T1":4860,"T6":5280,"R":5420,"T2":5000,"T3":0,"T4":0},
{"h":69,"T1":3450,"T6":4720,"R":4720,"T2":0},
{"h":70,"T1":2610,"T6":4160,"R":4300},
{"h":71,"T1":2330,"T6":3600,"R":3600,"T2":0,"T3":0,"T4":0,"T5":2890}
]
},
"spacing": 95,
"hconcat": [
{
  "spacing": 24,
  "bounds": "flush",
  "vconcat": [
    {
      "width": 445, "height": 156,
      "data": {"name": "L1"},
      "transform": [{"fold": ["T1","T2","T3","T4","T5","T6"], "as": ["k","v"]}, {"filter": "isValid(datum.v)"}],
      "mark": {"type": "line", "strokeWidth": 1.5, "clip": true},
      "encoding": {
        "x": {"field": "d", "type": "quantitative", "scale": {"domain": [1, 365], "nice": false, "zero": false}, "axis": {"values": [50,100,150,200,250,300,350], "labels": false, "title": null}},
        "y": {"field": "v", "type": "quantitative", "scale": {"domain": [-1.8, 75.4], "nice": false, "zero": false}, "axis": {"values": [0,20,40,60], "title": "DTW qᵢₙ [%]"}},
        "color": {"field": "k", "type": "nominal", "scale": {"domain": ["T1","T2","T3","T4","T5","T6"], "range": ["#443983","#31688e","#21918c","#35b779","#90d743","#fde725"]}, "legend": {"title": "Tools", "labelExpr": "'Tool ' + slice(datum.label, 1)", "symbolType": "M-1.5,0H1.5"}}
      }
    },
    {
      "width": 445, "height": 158,
      "data": {"name": "L2"},
      "transform": [{"fold": ["T1","T2","T3","T4","T5","T6"], "as": ["k","v"]}, {"filter": "isValid(datum.v)"}],
      "mark": {"type": "line", "strokeWidth": 1.5, "clip": true},
      "encoding": {
        "x": {"field": "d", "type": "quantitative", "scale": {"domain": [1, 365], "nice": false, "zero": false}, "axis": {"values": [50,100,150,200,250,300,350], "labels": false, "title": null}},
        "y": {"field": "v", "type": "quantitative", "scale": {"domain": [-0.9, 45], "nice": false, "zero": false}, "axis": {"values": [0,10,20,30,40], "title": "DTW qₕₓ₁ [%]"}},
        "color": {"field": "k", "type": "nominal", "scale": {"domain": ["T1","T2","T3","T4","T5","T6"], "range": ["#443983","#31688e","#21918c","#35b779","#90d743","#fde725"]}, "legend": {"title": "Tools", "labelExpr": "'Tool ' + slice(datum.label, 1)", "symbolType": "M-1.5,0H1.5"}}
      }
    },
    {
      "width": 445, "height": 155,
      "data": {"name": "L3"},
      "transform": [{"fold": ["T1","T2","T3","T4","T5","T6"], "as": ["k","v"]}, {"filter": "isValid(datum.v)"}],
      "mark": {"type": "line", "strokeWidth": 1.5, "clip": true},
      "encoding": {
        "x": {"field": "d", "type": "quantitative", "scale": {"domain": [1, 365], "nice": false, "zero": false}, "axis": {"values": [50,100,150,200,250,300,350], "title": "Days", "titlePadding": 4}},
        "y": {"field": "v", "type": "quantitative", "scale": {"domain": [-2.4, 110.4], "nice": false, "zero": false}, "axis": {"values": [0,25,50,75,100], "title": "DTW qₕₓ₂ [%]"}},
        "color": {"field": "k", "type": "nominal", "scale": {"domain": ["T1","T2","T3","T4","T5","T6"], "range": ["#443983","#31688e","#21918c","#35b779","#90d743","#fde725"]}, "legend": {"title": "Tools", "labelExpr": "'Tool ' + slice(datum.label, 1)", "symbolType": "M-1.5,0H1.5"}}
      }
    }
  ]
},
{
  "spacing": 0,
  "bounds": "flush",
  "vconcat": [
    {
      "width": 432, "height": 20,
      "view": {"stroke": null},
      "data": {"values": [{}]},
      "mark": {"type": "text", "text": "Hourly profiles from days 140, 141 & 142", "font": "Liberation Serif", "fontSize": 22, "color": "#000000", "baseline": "middle", "align": "center"},
      "encoding": {}
    },
    {
      "spacing": 23.3,
      "bounds": "flush",
      "vconcat": [
        {
          "width": 432, "height": 149.5,
          "data": {"name": "R1"},
          "transform": [{"fold": ["T1","T2","T3","T4","T5","T6","R"], "as": ["k","v"]}, {"filter": "isValid(datum.v)"}],
          "encoding": {
            "x": {"field": "h", "type": "quantitative", "scale": {"domain": [0, 71], "nice": false, "zero": false}, "axis": {"values": [0,10,20,30,40,50,60,70], "labels": false, "title": null}},
            "y": {"field": "v", "type": "quantitative", "scale": {"domain": [-2150, 45150], "nice": false, "zero": false}, "axis": {"values": [0,10000,20000,30000,40000], "format": "d", "title": "qᵢₙ [kWh]"}}
          },
          "layer": [
            {"transform": [{"filter": "datum.k == 'R'"}], "mark": {"type": "line", "color": "#440154", "strokeDash": [5, 3], "strokeWidth": 1.6, "clip": true}, "encoding": {}},
            {"transform": [{"filter": "datum.k != 'R'"}], "mark": {"type": "line", "strokeWidth": 1.5, "clip": true},
             "encoding": {"color": {"field": "k", "type": "nominal", "scale": {"domain": ["T1","T2","T3","T4","T5","T6"], "range": ["#443983","#31688e","#21918c","#35b779","#90d743","#fde725"]}, "legend": {"title": "Tools", "labelExpr": "'Tool ' + slice(datum.label, 1)", "symbolType": "M-1.5,0H1.5"}}}}
          ]
        },
        {
          "width": 432, "height": 149.5,
          "data": {"name": "R2"},
          "transform": [{"fold": ["T1","T2","T3","T4","T5","T6","R"], "as": ["k","v"]}, {"filter": "isValid(datum.v)"}],
          "encoding": {
            "x": {"field": "h", "type": "quantitative", "scale": {"domain": [0, 71], "nice": false, "zero": false}, "axis": {"values": [0,10,20,30,40,50,60,70], "labels": false, "title": null}},
            "y": {"field": "v", "type": "quantitative", "scale": {"domain": [-1100, 23450], "nice": false, "zero": false}, "axis": {"values": [0,5000,10000,15000,20000], "format": "d", "title": "qₕₓ₁ [kWh]"}}
          },
          "layer": [
            {"transform": [{"filter": "datum.k == 'R'"}], "mark": {"type": "line", "color": "#440154", "strokeDash": [5, 3], "strokeWidth": 1.6, "clip": true}, "encoding": {}},
            {"transform": [{"filter": "datum.k != 'R'"}], "mark": {"type": "line", "strokeWidth": 1.5, "clip": true},
             "encoding": {"color": {"field": "k", "type": "nominal", "scale": {"domain": ["T1","T2","T3","T4","T5","T6"], "range": ["#443983","#31688e","#21918c","#35b779","#90d743","#fde725"]}, "legend": {"title": "Tools", "labelExpr": "'Tool ' + slice(datum.label, 1)", "symbolType": "M-1.5,0H1.5"}}}}
          ]
        },
        {
          "width": 432, "height": 151,
          "data": {"name": "R3"},
          "transform": [{"fold": ["T1","T2","T3","T4","T5","T6","R"], "as": ["k","v"]}, {"filter": "isValid(datum.v)"}],
          "encoding": {
            "x": {"field": "h", "type": "quantitative", "scale": {"domain": [0, 71], "nice": false, "zero": false}, "axis": {"values": [0,10,20,30,40,50,60,70], "title": "Hours", "titlePadding": 2}},
            "y": {"field": "v", "type": "quantitative", "scale": {"domain": [-1380, 11320], "nice": false, "zero": false}, "axis": {"values": [0,5000,10000], "format": "d", "title": "qₕₓ₂ [kWh]"}}
          },
          "layer": [
            {"transform": [{"filter": "datum.k == 'R'"}], "mark": {"type": "line", "color": "#440154", "strokeDash": [5, 3], "strokeWidth": 1.6, "clip": true}, "encoding": {}},
            {"transform": [{"filter": "datum.k != 'R'"}], "mark": {"type": "line", "strokeWidth": 1.5, "clip": true},
             "encoding": {"color": {"field": "k", "type": "nominal", "scale": {"domain": ["T1","T2","T3","T4","T5","T6"], "range": ["#443983","#31688e","#21918c","#35b779","#90d743","#fde725"]}, "legend": {"title": "Tools", "labelExpr": "'Tool ' + slice(datum.label, 1)", "symbolType": "M-1.5,0H1.5"}}}}
          ]
        }
      ]
    }
  ]
}
]
}
